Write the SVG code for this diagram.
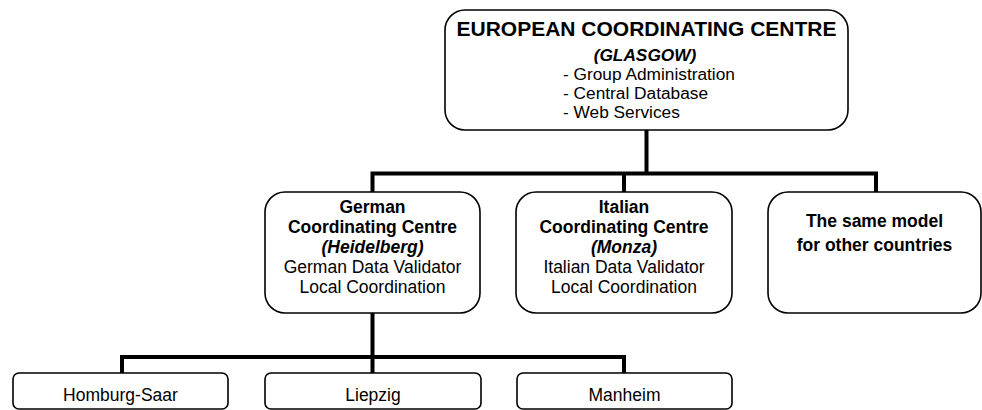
<svg xmlns="http://www.w3.org/2000/svg" width="982" height="410" viewBox="0 0 982 410">
<style>
.box{fill:#fff;stroke:#000;stroke-width:1.6}
.c{fill:none;stroke:#000;stroke-width:4}
text{font-family:"Liberation Sans",Arial,sans-serif;font-size:17.5px;fill:#000}
.m{text-anchor:middle}
.b{font-weight:bold}
.bi{font-weight:bold;font-style:italic}
.t{font-weight:bold;font-size:21px}
.s{font-size:17.3px}
</style>
<rect width="982" height="410" fill="#fff"/>
<g id="connectors">
<path class="c" d="M646.5 130V173.5M372.5 173.5H876M372.5 171.5V192M624 173.5V192M876 171.5V192"/>
<path class="c" d="M372.5 313V373M122 357H624M122 355V373M624 355V373"/>
</g>
<g id="european">
<rect class="box" x="445" y="10" width="403" height="120" rx="20"/>
<text class="t m" x="646.5" y="36">EUROPEAN COORDINATING CENTRE</text>
<text class="bi m s" x="645" y="61">(GLASGOW)</text>
<text class="s" x="563" y="80">- Group Administration</text>
<text class="s" x="563" y="99">- Central Database</text>
<text class="s" x="563" y="118">- Web Services</text>
</g>
<g id="german">
<rect class="box" x="265" y="192" width="215" height="121" rx="20"/>
<text class="b m" x="372.5" y="213">German</text>
<text class="b m" x="372.5" y="233">Coordinating Centre</text>
<text class="bi m" x="372.5" y="253">(Heidelberg)</text>
<text class="m" x="372.5" y="273">German Data Validator</text>
<text class="m" x="372.5" y="293">Local Coordination</text>
</g>
<g id="italian">
<rect class="box" x="516" y="192" width="216" height="121" rx="20"/>
<text class="b m" x="624" y="213">Italian</text>
<text class="b m" x="624" y="233">Coordinating Centre</text>
<text class="bi m" x="624" y="253">(Monza)</text>
<text class="m" x="624" y="273">Italian Data Validator</text>
<text class="m" x="624" y="293">Local Coordination</text>
</g>
<g id="others">
<rect class="box" x="768" y="192" width="213" height="121" rx="20"/>
<text class="b m" x="874.5" y="227">The same model</text>
<text class="b m" x="874.5" y="251">for other countries</text>
</g>
<g id="homburg">
<rect class="box" x="13" y="373" width="215" height="36" rx="6"/>
<text class="m" x="120.5" y="401">Homburg-Saar</text>
</g>
<g id="liepzig">
<rect class="box" x="265" y="373" width="216" height="36" rx="6"/>
<text class="m" x="373" y="401">Liepzig</text>
</g>
<g id="manheim">
<rect class="box" x="517" y="373" width="215" height="36" rx="6"/>
<text class="m" x="624.5" y="401">Manheim</text>
</g>
</svg>
